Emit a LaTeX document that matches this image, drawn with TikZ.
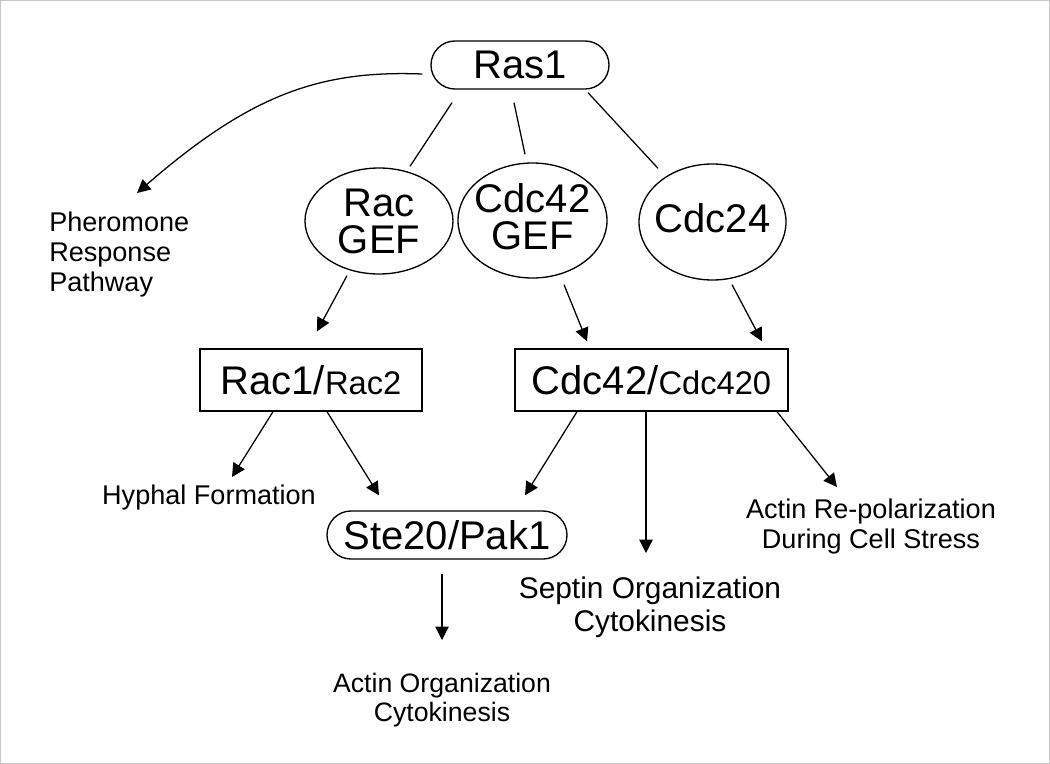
\documentclass[tikz,border=0pt]{standalone}
\usepackage{fontspec}
\setmainfont{Liberation Sans}
\usetikzlibrary{arrows.meta,shapes.geometric,calc}
\begin{document}
\begin{tikzpicture}[x=0.75pt,y=-0.75pt,
  line/.style={line width=0.95pt},
  arr/.style={line width=0.95pt,-{Triangle[length=10pt,width=10pt]}},
  pill/.style={draw,line width=1pt,rounded corners=18pt,minimum height=36pt,inner sep=0pt,font=\fontsize{30}{30}\selectfont},
  gef/.style={draw,ellipse,line width=1pt,inner sep=0pt},
  gefbig/.style={align=center,font=\fontsize{30}{27.75}\selectfont,inner sep=0pt},
  boxn/.style={draw,line width=1pt,minimum height=46.5pt,inner sep=0pt},
  lab/.style={align=center,inner sep=0pt,font=\fontsize{20.3}{22.5}\selectfont},
]
\useasboundingbox (0,0) rectangle (1050,764);
\draw[gray!45,line width=1pt] (0.7,0.7) rectangle (1049.3,763.3);

% nodes
\node[pill,minimum width=133.5pt] (ras1) at (520,65) {Ras1};
\node[gef,minimum width=111pt,minimum height=79.5pt,label={[gefbig]center:{Rac\\GEF}}] (racgef) at (379,221) {};
\node[gef,minimum width=111.75pt,minimum height=86.25pt,label={[gefbig,yshift=2.5pt]center:{Cdc42\\GEF}}] (cdcgef) at (532.5,220.5) {};
\node[gef,minimum width=110.25pt,minimum height=87pt,label={[gefbig,yshift=3pt]center:{Cdc24}}] (cdc24) at (712.5,222) {};
\node[boxn,minimum width=166.5pt] (rac) at (311,380) {{\fontsize{30}{30}\selectfont Rac1/}{\fontsize{24.5}{26}\selectfont Rac2}};
\node[boxn,minimum width=204.75pt] (cdc) at (651.5,380) {{\fontsize{30}{30}\selectfont Cdc42/}{\fontsize{24.5}{26}\selectfont Cdc420}};
\node[pill,minimum width=180pt] (ste) at (447,535) {Ste20/Pak1};

% text labels
\node[lab,align=left,anchor=west] (phero) at (49,254) {Pheromone\\Response\\Pathway};
\node[lab] (hyphal) at (209,497) {Hyphal Formation};
\node[lab] (actinre) at (871,526.5) {Actin Re-polarization\\During Cell Stress};
\node[lab,font=\fontsize{22.4}{24.75}\selectfont] (septin) at (650,607) {Septin Organization\\Cytokinesis};
\node[lab,font=\fontsize{20}{21.75}\selectfont] (actinorg) at (442,700) {Actin Organization\\Cytokinesis};

% connectors
\draw[arr] ($(ras1.west)+(-8,9)$) .. controls +(-103,-4) and +(113,-98) .. ($(phero.west)+(88,-61)$);
\draw[line] ($(ras1.south)+(-68,13)$) -- ($(racgef.north)+(31,-1)$);
\draw[line] ($(ras1.south)+(-6,13)$) -- ($(cdcgef.north)+(-7.5,-8)$);
\draw[line] ($(ras1.south)+(68,3)$) -- ($(cdc24.north)+(-54.5,5)$);
\draw[arr] ($(racgef.south)+(-32,1)$) -- ($(rac.north)+(6,-17)$);
\draw[arr] ($(cdcgef.south)+(31.5,6)$) -- ($(cdc.north)+(-64.5,-7)$);
\draw[arr] ($(cdc24.south)+(19.5,4)$) -- ($(cdc.north)+(110.5,-7)$);
\draw[arr] ($(rac.south)+(-38,0)$) -- ($(hyphal.center)+(23,-20)$);
\draw[arr] ($(rac.south)+(16,0)$) -- ($(ste.north)+(-68,-15)$);
\draw[arr] ($(cdc.south)+(-74.5,0)$) -- ($(ste.north)+(78,-15)$);
\draw[arr] ($(cdc.south)+(-5.5,0)$) -- ($(septin.center)+(-4,-54)$);
\draw[arr] ($(cdc.south)+(125.5,0)$) -- ($(actinre.center)+(-34,-39.5)$);
\draw[arr] ($(ste.south)+(-5,14)$) -- ($(actinorg.center)+(0,-60)$);
\end{tikzpicture}
\end{document}
